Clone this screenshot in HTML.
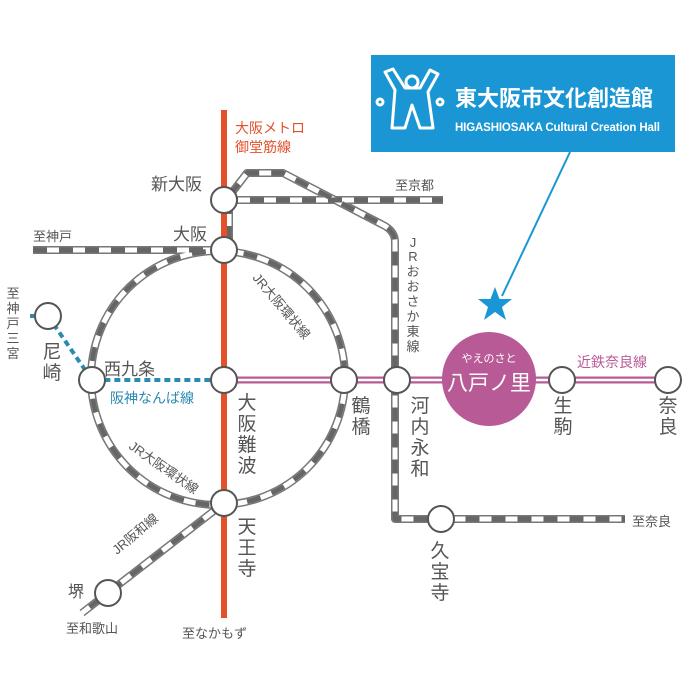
<!DOCTYPE html>
<html><head><meta charset="utf-8"><style>
html,body{margin:0;padding:0;background:#fff;}
svg{display:block;font-family:"Liberation Sans","Noto Sans CJK JP",sans-serif;}
</style></head><body>
<svg width="694" height="694" viewBox="0 0 694 694" xmlns="http://www.w3.org/2000/svg">
<!-- JR lines: outline, white, dashes -->
<g fill="none" stroke-linejoin="round">
 <g stroke="#777" stroke-width="8">
  <circle cx="218" cy="378" r="127"/>
  <path d="M33 250H224M224 200H443M229 200V250M230 195L247 173H283L385 226Q395 232 395 242V519H625M224 503L82 613"/>
 </g>
 <g stroke="#fff" stroke-width="5">
  <circle cx="218" cy="378" r="127"/>
  <path d="M33 250H224M224 200H443M229 200V250M230 195L247 173H283L385 226Q395 232 395 242V519H625M224 503L82 613"/>
 </g>
 <g stroke="#666" stroke-width="5" stroke-dasharray="14 12">
  <circle cx="218" cy="378" r="127"/>
  <path d="M33 250H224M224 200H443M229 200V250M230 195L247 173H283L385 226Q395 232 395 242V519H625M224 503L82 613"/>
 </g>
</g>
<!-- Kintetsu -->
<path d="M224 380H668" stroke="#b85a96" stroke-width="7"/>
<path d="M224 380H668" stroke="#fff" stroke-width="2.5"/>
<!-- Hanshin -->
<path d="M30 316H48M48 316L92 380H212" stroke="#2a8ab0" stroke-width="4" stroke-dasharray="6 4" fill="none"/>
<!-- Red -->
<path d="M224 110V618" stroke="#e4502a" stroke-width="6"/>
<!-- stations -->
<g fill="#fff" stroke="#555" stroke-width="2">
 <circle cx="224" cy="200" r="13"/><circle cx="224" cy="250" r="13"/>
 <circle cx="92" cy="380" r="13"/><circle cx="224" cy="380" r="13"/>
 <circle cx="344" cy="380" r="13"/><circle cx="224" cy="503" r="13"/>
 <circle cx="397" cy="380" r="13"/><circle cx="562" cy="380" r="13"/>
 <circle cx="668" cy="380" r="13"/><circle cx="441" cy="519" r="13"/>
 <circle cx="108" cy="593" r="13"/><circle cx="48" cy="316" r="13"/>
</g>
<circle cx="489" cy="379" r="47" fill="#b85a96"/>
<text x="489" y="362" font-size="11" fill="#fff" text-anchor="middle">やえのさと</text>
<text x="489" y="390" font-size="21" fill="#fff" text-anchor="middle">八戸ノ里</text>
<!-- callout -->
<rect x="371" y="55" width="304" height="97" fill="#1a96d4"/>
<g fill="none" stroke="#fff" stroke-width="3" stroke-linejoin="round">
 <path d="M385 72L395 90L392 128H405L412 105L420 128H433L428 92L438 74L430 70L420 88H405L393 69Z"/>
 <circle cx="380" cy="102" r="3"/><circle cx="440" cy="102" r="3"/><circle cx="412" cy="82" r="6"/>
</g>
<text x="455" y="106" font-size="22" font-weight="bold" fill="#fff">東大阪市文化創造館</text>
<text x="455" y="131" font-size="11.5" font-weight="bold" fill="#fff" textLength="205">HIGASHIOSAKA Cultural Creation Hall</text>
<path d="M570 152L502 296" stroke="#1a96d4" stroke-width="2"/>
<polygon points="495,287 499.5,299 512,299 502,307 506,320 495,312 484,320 488,307 478,299 490.5,299" fill="#1a96d4"/>
<!-- labels -->
<g fill="#555">
 <text x="235" y="133" font-size="14" fill="#e4502a">大阪メトロ</text>
 <text x="235" y="152" font-size="14" fill="#e4502a">御堂筋線</text>
 <text x="151" y="190" font-size="17">新大阪</text>
 <text x="173" y="240" font-size="17">大阪</text>
 <text x="395" y="190" font-size="13">至京都</text>
 <text x="33" y="241" font-size="13">至神戸</text>
 <text x="104" y="375" font-size="17">西九条</text>
 <text x="110" y="403" font-size="14" fill="#2a8ab0">阪神なんば線</text>
 <text x="577" y="367" font-size="14" fill="#b85a96">近鉄奈良線</text>
 <text x="68" y="597" font-size="16">堺</text>
 <text x="66" y="633" font-size="13">至和歌山</text>
 <text x="182" y="638" font-size="13">至なかもず</text>
 <text x="632" y="526" font-size="13">至奈良</text>
 <text font-size="13" transform="translate(252,278) rotate(50)">JR大阪環状線</text>
 <text font-size="13" transform="translate(128,448) rotate(35)">JR大阪環状線</text>
 <text font-size="13" transform="translate(117,555) rotate(-40)">JR阪和線</text>
 <g font-size="13" text-anchor="middle">
  <text x="13" y="298">至</text><text x="13" y="313">神</text><text x="13" y="328">戸</text><text x="13" y="343">三</text><text x="13" y="358">宮</text>
  <text x="413" y="247">J</text><text x="413" y="261">R</text><text x="413" y="276">お</text><text x="413" y="291">お</text><text x="413" y="306">さ</text><text x="413" y="321">か</text><text x="413" y="336">東</text><text x="413" y="351">線</text>
 </g>
 <g font-size="19" text-anchor="middle">
  <text x="52" y="358">尼</text><text x="52" y="379">崎</text>
  <text x="247" y="409">大</text><text x="247" y="430">阪</text><text x="247" y="451">難</text><text x="247" y="472">波</text>
  <text x="361" y="412">鶴</text><text x="361" y="433">橋</text>
  <text x="420" y="412">河</text><text x="420" y="433">内</text><text x="420" y="454">永</text><text x="420" y="475">和</text>
  <text x="563" y="412">生</text><text x="563" y="433">駒</text>
  <text x="668" y="412">奈</text><text x="668" y="433">良</text>
  <text x="247" y="533">天</text><text x="247" y="554">王</text><text x="247" y="575">寺</text>
  <text x="440" y="557">久</text><text x="440" y="578">宝</text><text x="440" y="599">寺</text>
 </g>
</g>
</svg>
</body></html>
